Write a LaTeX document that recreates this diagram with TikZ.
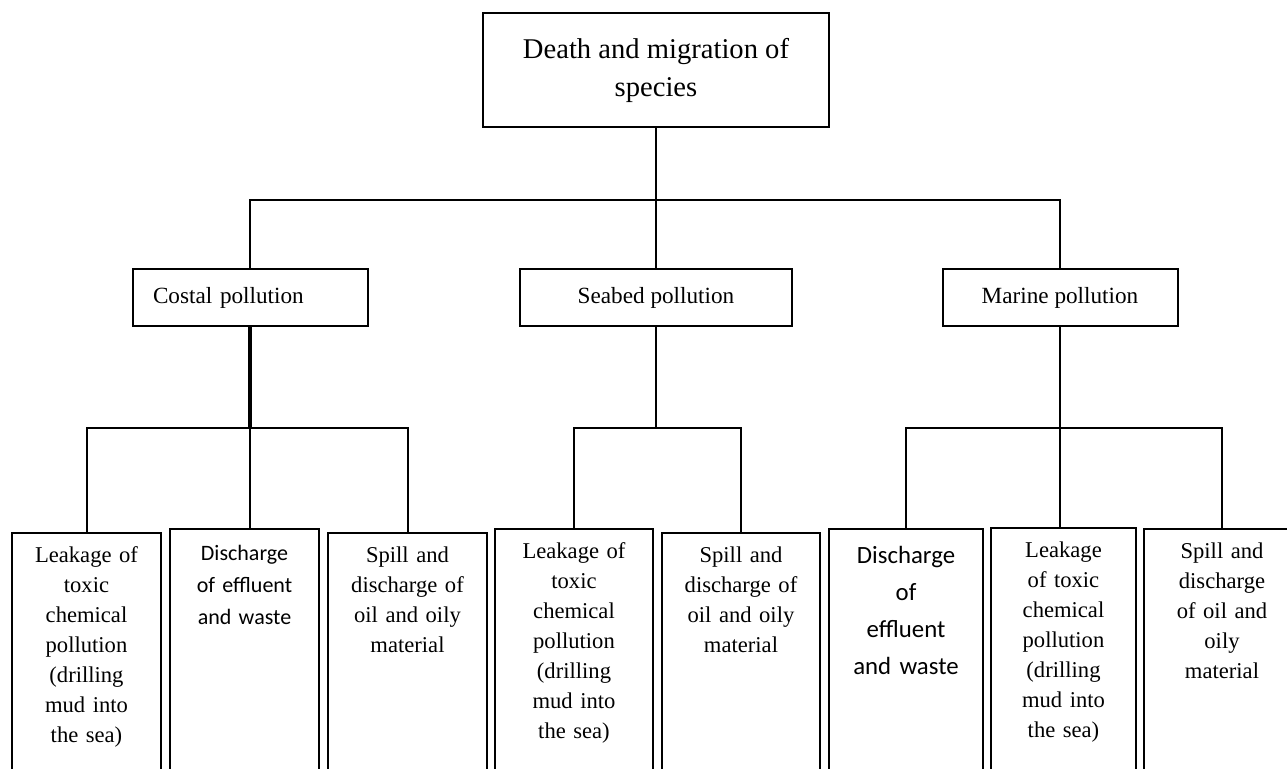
\documentclass[tikz,border=0pt]{standalone}
\usepackage{fontspec}
\setmainfont{Liberation Serif}
\newfontfamily\calibri{Carlito}
\usetikzlibrary{calc}

\tikzset{
  box/.style={draw, line width=1pt, inner sep=0pt, align=center},
  cause/.style={box, anchor=north, text width=#1, inner xsep=0pt, inner ysep=4pt,
    text height=11pt, text depth=130pt, font=\fontsize{11.3}{15}\selectfont},
  link/.style={line width=1pt},
}

\begin{document}
\begin{tikzpicture}
    [x=0.5pt,y=-0.5pt,line join=miter]
    \useasboundingbox (0,0) rectangle (1287,769);

    % top level
    \node[box, minimum width=173pt, minimum height=57pt, font=\fontsize{14.3}{19}\selectfont]
      (death) at (656,70) {Death and migration of\\species};

    % pollution sources
    \node[box, text width=97pt, align=left, inner xsep=10.25pt, minimum height=28.5pt,
      font=\fontsize{11.6}{14}\selectfont] (costal) at (250,297.5) {Costal pollution};
    \node[box, minimum width=136pt, minimum height=28.5pt, font=\fontsize{11.6}{14}\selectfont]
      (seabed) at (656,297.5) {Seabed pollution};
    \node[box, minimum width=117.5pt, minimum height=28.5pt, font=\fontsize{11.6}{14}\selectfont]
      (marine) at (1060,297.5) {Marine pollution};

    % causes
    \node[cause=74.5pt] (leak1) at (86.5,532)
      {Leakage of\\toxic\\chemical\\pollution\\(drilling\\mud into\\the sea)};
    \node[cause=74.5pt, text height=12pt, font=\calibri\fontsize{11}{16}\selectfont]
      (disch1) at (244.5,528) {Discharge\\of effluent\\and waste};
    \node[cause=79.5pt] (spill1) at (407.5,532)
      {Spill and\\discharge of\\oil and oily\\material};
    \node[cause=79pt] (leak2) at (574,528)
      {Leakage of\\toxic\\chemical\\pollution\\(drilling\\mud into\\the sea)};
    \node[cause=79pt] (spill2) at (741,532)
      {Spill and\\discharge of\\oil and oily\\material};
    \node[cause=77pt, text height=13.5pt, font=\calibri\fontsize{12.4}{18.5}\selectfont]
      (disch2) at (906,528) {Discharge\\of\\effluent\\and waste};
    \node[cause=72.5pt] (leak3) at (1063.5,527)
      {Leakage\\of toxic\\chemical\\pollution\\(drilling\\mud into\\the sea)};
    \node[cause=78pt] (spill3) at (1222,528)
      {Spill and\\discharge\\of oil and\\oily\\material};

    % connectors
    \coordinate (hub0) at (656,200);
    \coordinate (hub1) at (250,428);
    \coordinate (hub2) at (656,428);
    \coordinate (hub3) at (1060,428);

    \draw[link] (death.south) -- (hub0) -- (seabed.north);
    \draw[link] (costal.north) |- (hub0) -| (marine.north);

    \draw[line width=1.6pt] (costal.south) -- (hub1);
    \draw[link] (leak1.north) |- (hub1) -| (spill1.north);
    \draw[link] (hub1) -- (hub1 |- disch1.north);

    \draw[link] (seabed.south) -- (hub2);
    \draw[link] (leak2.north) |- (hub2) -| (spill2.north);

    \draw[link] (marine.south) -- (hub3) -- (hub3 |- leak3.north);
    \draw[link] (disch2.north) |- (hub3) -| (spill3.north);
  \end{tikzpicture}
\end{document}
